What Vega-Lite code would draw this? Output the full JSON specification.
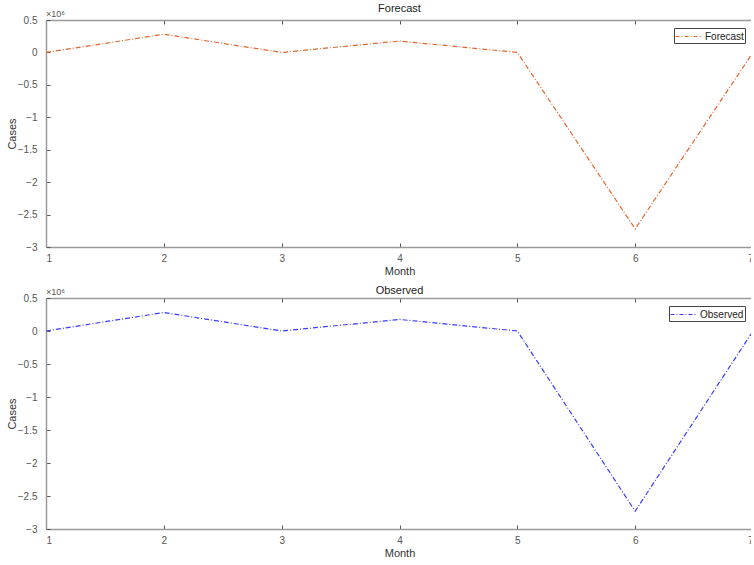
{
  "$schema": "https://vega.github.io/schema/vega-lite/v6.json",
  "padding": {"left": 6, "top": 3, "right": -3, "bottom": 0},
  "background": "white",
  "config": {
    "font": "Liberation Sans",
    "view": {"stroke": null},
    "title": {"fontSize": 11, "fontWeight": "normal", "color": "#222222", "offset": -4},
    "axis": {
      "grid": false,
      "domainColor": "#9a9a9a",
      "domainWidth": 1.5,
      "tickColor": "#555555",
      "tickSize": -4,
      "labelColor": "#555555",
      "labelFontSize": 10,
      "titleFontSize": 11,
      "titleFontWeight": "normal",
      "titleColor": "#333333"
    },
    "legend": {
      "orient": "top-right",
      "offset": 8,
      "padding": 1,
      "strokeColor": "#444444",
      "fillColor": "white",
      "symbolType": "M-1,0H2.6",
      "symbolSize": 196,
      "symbolStrokeWidth": 1,
      "symbolDash": [4, 2, 1, 2],
      "labelFontSize": 10,
      "labelOffset": 15,
      "labelColor": "#222222",
      "title": null,
      "rowPadding": 0
    }
  },
  "datasets": {
    "cases": [
      {"month": 1, "cases": 0, "series": "Forecast"},
      {"month": 2, "cases": 280000, "series": "Forecast"},
      {"month": 3, "cases": 0, "series": "Forecast"},
      {"month": 4, "cases": 175000, "series": "Forecast"},
      {"month": 5, "cases": 0, "series": "Forecast"},
      {"month": 6, "cases": -2720000, "series": "Forecast"},
      {"month": 7, "cases": 0, "series": "Forecast"},
      {"month": 1, "cases": 0, "series": "Observed"},
      {"month": 2, "cases": 280000, "series": "Observed"},
      {"month": 3, "cases": 0, "series": "Observed"},
      {"month": 4, "cases": 175000, "series": "Observed"},
      {"month": 5, "cases": 0, "series": "Observed"},
      {"month": 6, "cases": -2730000, "series": "Observed"},
      {"month": 7, "cases": 0, "series": "Observed"}
    ],
    "exponent": [
      {"month": 1, "cases": 500000, "label": "×10⁶"}
    ]
  },
  "spacing": 9,
  "vconcat": [
    {
      "title": "Forecast",
      "width": 707,
      "height": 227,
      "layer": [
        {
          "data": {"name": "cases"},
          "transform": [{"filter": "datum.series === 'Forecast'"}],
          "mark": {"type": "line", "strokeWidth": 1.2, "strokeDash": [5, 2, 1, 2], "clip": true},
          "encoding": {
            "x": {"field": "month", "type": "quantitative", "scale": {"domain": [1, 7], "nice": false, "zero": false},
              "axis": {"title": "Month", "values": [1, 2, 3, 4, 5, 6, 7], "labelPadding": 10, "titlePadding": 2}},
            "y": {"field": "cases", "type": "quantitative", "scale": {"domain": [-3000000, 500000], "nice": false},
              "axis": {"title": "Cases", "values": [-3000000, -2500000, -2000000, -1500000, -1000000, -500000, 0, 500000], "labelExpr": "format(datum.value / 1000000, '~g')", "labelPadding": 13, "titlePadding": 0}},
            "color": {"field": "series", "type": "nominal", "scale": {"domain": ["Forecast"], "range": ["#E0662F"]}}
          }
        },
        {
          "data": {"name": "cases"},
          "transform": [{"filter": "datum.series === 'Forecast'"}],
          "mark": {"type": "line", "opacity": 0},
          "encoding": {
            "x": {"field": "month", "type": "quantitative", "scale": {"domain": [1, 7], "nice": false, "zero": false},
              "axis": {"orient": "top", "title": null, "labels": false, "values": [1, 2, 3, 4, 5, 6, 7]}},
            "y": {"field": "cases", "type": "quantitative", "axis": null}
          }
        },
        {
          "data": {"name": "exponent"},
          "mark": {"type": "text", "align": "left", "baseline": "bottom", "dy": -1, "fontSize": 9, "color": "#555555"},
          "encoding": {
            "x": {"field": "month", "type": "quantitative", "axis": null},
            "y": {"field": "cases", "type": "quantitative", "axis": null},
            "text": {"field": "label"}
          }
        }
      ],
      "resolve": {"axis": {"x": "independent", "y": "independent"}}
    },
    {
      "title": {"text": "Observed", "offset": -8},
      "width": 707,
      "height": 231,
      "layer": [
        {
          "data": {"name": "cases"},
          "transform": [{"filter": "datum.series === 'Observed'"}],
          "mark": {"type": "line", "strokeWidth": 1.2, "strokeDash": [5, 2, 1, 2], "clip": true},
          "encoding": {
            "x": {"field": "month", "type": "quantitative", "scale": {"domain": [1, 7], "nice": false, "zero": false},
              "axis": {"title": "Month", "values": [1, 2, 3, 4, 5, 6, 7], "labelPadding": 10, "titlePadding": 2}},
            "y": {"field": "cases", "type": "quantitative", "scale": {"domain": [-3000000, 500000], "nice": false},
              "axis": {"title": "Cases", "values": [-3000000, -2500000, -2000000, -1500000, -1000000, -500000, 0, 500000], "labelExpr": "format(datum.value / 1000000, '~g')", "labelPadding": 13, "titlePadding": 0}},
            "color": {"field": "series", "type": "nominal", "scale": {"domain": ["Observed"], "range": ["#3B3BFF"]}}
          }
        },
        {
          "data": {"name": "cases"},
          "transform": [{"filter": "datum.series === 'Observed'"}],
          "mark": {"type": "line", "opacity": 0},
          "encoding": {
            "x": {"field": "month", "type": "quantitative", "scale": {"domain": [1, 7], "nice": false, "zero": false},
              "axis": {"orient": "top", "title": null, "labels": false, "values": [1, 2, 3, 4, 5, 6, 7]}},
            "y": {"field": "cases", "type": "quantitative", "axis": null}
          }
        },
        {
          "data": {"name": "exponent"},
          "mark": {"type": "text", "align": "left", "baseline": "bottom", "dy": -1, "fontSize": 9, "color": "#555555"},
          "encoding": {
            "x": {"field": "month", "type": "quantitative", "axis": null},
            "y": {"field": "cases", "type": "quantitative", "axis": null},
            "text": {"field": "label"}
          }
        }
      ],
      "resolve": {"axis": {"x": "independent", "y": "independent"}}
    }
  ],
  "resolve": {"scale": {"color": "independent"}}
}
